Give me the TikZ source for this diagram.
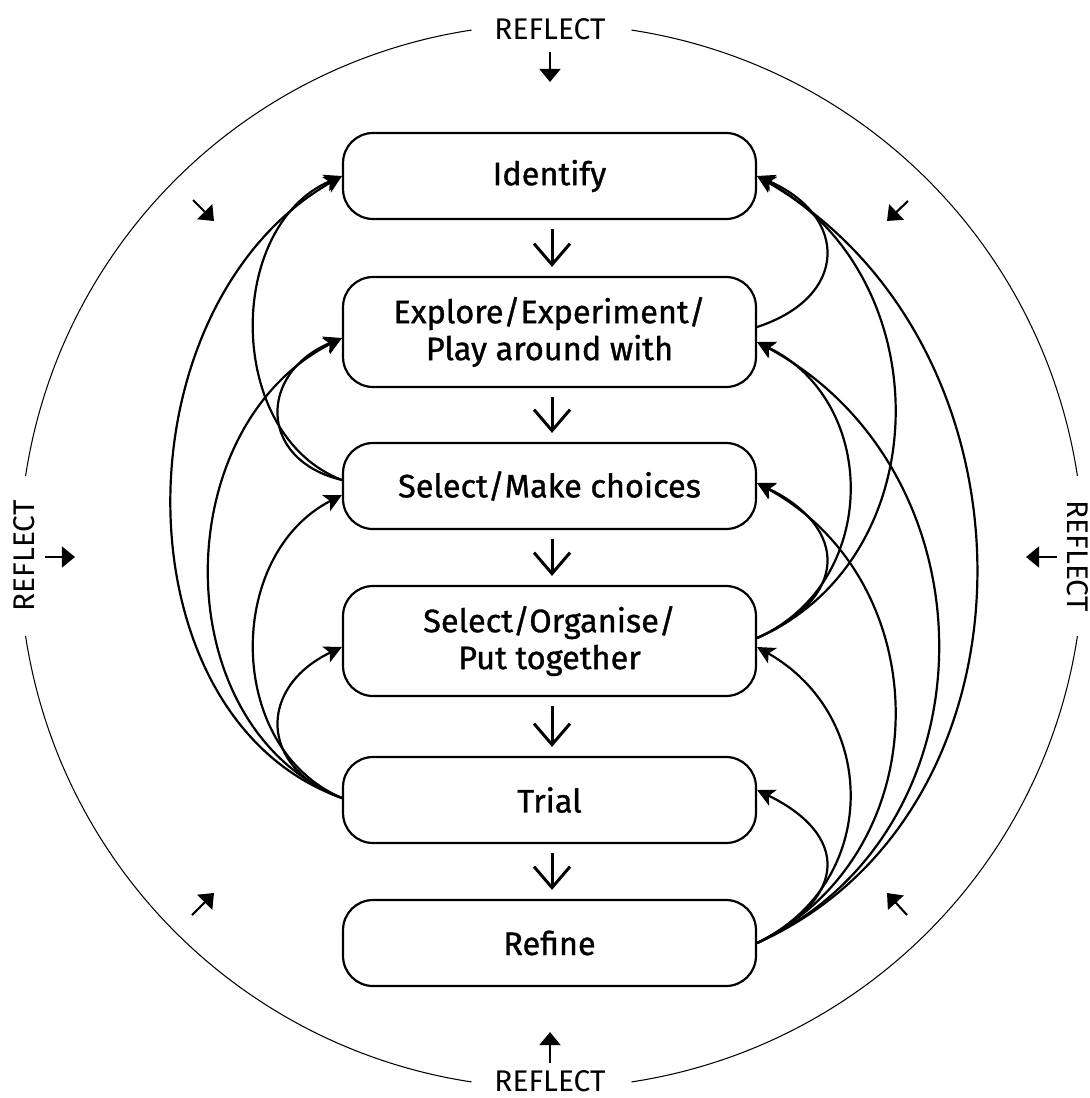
\documentclass[tikz,border=0pt]{standalone}
\usepackage{fontspec}
\setmainfont{Fira Sans}
\newfontfamily\boxfont[FakeBold=1]{Fira Sans}
\usetikzlibrary{arrows.meta,calc}
\begin{document}
\begin{tikzpicture}[x=0.02cm,y=-0.02cm,
  box/.style={draw, line width=1.25pt, rounded corners=0.6cm, minimum width=8.26cm,
    align=center, inner sep=0pt, font=\boxfont\fontsize{18.5}{21}\selectfont},
  shortbox/.style={box, minimum height=1.72cm},
  tallbox/.style={box, minimum height=2.2cm},
  conn/.style={line width=1.25pt, -{Stealth[length=10pt,width=10pt,inset=2.5pt]}},
  downarr/.style={line width=1.7pt, -{Straight Barb[length=0.42cm,width=0.72cm]},
    shorten <=0.18cm, shorten >=0.18cm},
  smallarr/.style={line width=1.2pt, -{Triangle[length=7.5pt,width=12pt]}},
  ring/.style={line width=0.6pt},
  lab/.style={font=\fontsize{17}{20}\selectfont, inner sep=0pt}
]
\useasboundingbox (0,0) rectangle (1089,1098);

% outer circle with gaps
\coordinate (c) at (551.5,556);
\draw[ring] (c) ++(8.65:532) arc[start angle=8.65,end angle=81.35,radius=532];
\draw[ring] (c) ++(98.65:532) arc[start angle=98.65,end angle=171.35,radius=532];
\draw[ring] (c) ++(188.65:532) arc[start angle=188.65,end angle=261.35,radius=532];
\draw[ring] (c) ++(278.65:532) arc[start angle=278.65,end angle=351.35,radius=532];

% REFLECT labels
\node[lab] (rtop) at (550,29) {REFLECT};
\node[lab] (rbot) at (550,1081) {REFLECT};
\node[lab, rotate=90] (rleft) at (24,556) {REFLECT};
\node[lab, rotate=-90] (rright) at (1078,556) {REFLECT};

% small reflect arrows
\coordinate (t1) at (550,52);  \coordinate (t2) at (550,82);
\coordinate (b1) at (550,1063); \coordinate (b2) at (550,1032);
\coordinate (l1) at (45,557);  \coordinate (l2) at (75,557);
\coordinate (r1) at (1057,557); \coordinate (r2) at (1026,557);
\coordinate (d1) at (193,200); \coordinate (d2) at (214,221);
\coordinate (e1) at (908,201); \coordinate (e2) at (887,221);
\coordinate (f1) at (192,915); \coordinate (f2) at (214,893);
\coordinate (g1) at (907,915); \coordinate (g2) at (887,893);
\foreach \p in {t,b,l,r,d,e,f,g} \draw[smallarr] (\p1) -- (\p2);

% boxes
\node[shortbox] (id) at (549.5,176) {Identify};
\node[tallbox]  (ex) at (549.5,332) {Explore/Experiment/\\Play around with};
\node[shortbox] (mc) at (549.5,486) {Select/Make choices};
\node[tallbox]  (or) at (549.5,641) {Select/Organise/\\Put together};
\node[shortbox] (tr) at (549.5,800) {Trial};
\node[shortbox] (rf) at (549.5,943) {Refine};

% downward arrows
\draw[downarr] ([xshift=0.05cm]id.south) -- ([xshift=0.05cm]ex.north);
\draw[downarr] ([xshift=0.05cm]ex.south) -- ([xshift=0.05cm]mc.north);
\draw[downarr] ([xshift=0.05cm]mc.south) -- ([xshift=0.05cm]or.north);
\draw[downarr] ([xshift=0.05cm]or.south) -- ([xshift=0.05cm]tr.north);
\draw[downarr] ([xshift=0.05cm]tr.south) -- ([xshift=0.05cm]rf.north);

% left feedback connectors
\draw[conn] ($(mc.west)+(0,-6)$) .. controls +(-117,-45) and +(-117,50) .. (id.west);
\draw[conn] ($(mc.west)+(0,-6)$) .. controls +(-84,-20) and +(-84,35) .. ($(ex.west)+(0,6)$);
\draw[conn] ($(tr.west)+(0,-2)$) .. controls +(-227,-80) and +(-227,130) .. (id.west);
\draw[conn] ($(tr.west)+(0,-2)$) .. controls +(-177,-70) and +(-177,90) .. ($(ex.west)+(0,6)$);
\draw[conn] ($(tr.west)+(0,-2)$) .. controls +(-117,-50) and +(-117,60) .. ($(mc.west)+(0,9)$);
\draw[conn] ($(tr.west)+(0,-2)$) .. controls +(-84,-30) and +(-84,40) .. ($(or.west)+(0,6)$);

% right feedback connectors
\draw[conn] ($(ex.east)+(0,-5)$) .. controls +(92,-30) and +(92,40) .. (id.east);
\draw[conn] ($(or.east)+(0,-3)$) .. controls +(92,-40) and +(92,45) .. ($(mc.east)+(0,-3)$);
\draw[conn] ($(or.east)+(0,-3)$) .. controls +(123,-55) and +(123,60) .. ($(ex.east)+(0,10)$);
\draw[conn] ($(or.east)+(0,-3)$) .. controls +(183,-80) and +(183,100) .. (id.east);
\draw[conn] (rf.east) .. controls +(92,-45) and +(92,45) .. ($(tr.east)+(0,-10)$);
\draw[conn] (rf.east) .. controls +(123,-60) and +(123,70) .. ($(or.east)+(0,6)$);
\draw[conn] (rf.east) .. controls +(183,-90) and +(183,100) .. ($(mc.east)+(0,-3)$);
\draw[conn] (rf.east) .. controls +(241,-110) and +(241,130) .. ($(ex.east)+(0,10)$);
\draw[conn] (rf.east) .. controls +(292,-130) and +(292,170) .. (id.east);
\end{tikzpicture}
\end{document}
